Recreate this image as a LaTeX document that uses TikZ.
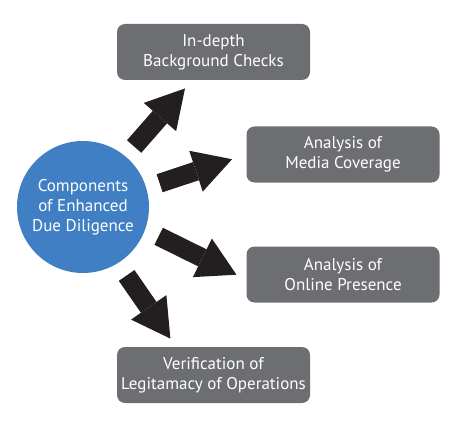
\documentclass[tikz,border=0pt]{standalone}
\usepackage{fontspec}
\setmainfont{PT Sans}
\usetikzlibrary{arrows.meta}

\definecolor{hubblue}{RGB}{64,127,196}
\definecolor{boxgray}{RGB}{109,110,113}
\definecolor{arrowblack}{RGB}{35,31,32}

\tikzset{
  hub/.style={circle, fill=hubblue, minimum size=132pt, inner sep=0pt, text=white, align=center, font=\fontsize{17}{20}\selectfont},
  item/.style={rectangle, rounded corners=8pt, fill=boxgray, minimum width=193pt, minimum height=56pt, inner sep=0pt, text=white, align=center, font=\fontsize{17}{20}\selectfont},
  bigarrow/.style={draw=arrowblack, line width=19pt, -{Triangle[width=43pt,length=38pt,line width=0pt]}, shorten <=13pt, shorten >=11pt}
}

\begin{document}
\begin{tikzpicture}[x=1pt,y=1pt,yscale=-1]
  \useasboundingbox (0,0) rectangle (474,425);

  % centre circle
  \node[hub] (hub) at (83,207) {Components\\of Enhanced\\Due Diligence};

  % the four components
  \node[item] (box1) at (213.5,52) {In-depth\\Background Checks};
  \node[item] (box2) at (343,154.5) {Analysis of\\Media Coverage};
  \node[item] (box3) at (343,274.5) {Analysis of\\Online Presence};
  \node[item] (box4) at (213.5,375) {Verification of\\Legitamacy of Operations};

  % block arrows
  \draw[bigarrow] (hub.50) -- (box1.-127);
  \draw[bigarrow, shorten <=14pt, shorten >=15pt] (hub.17) -- (box2.west);
  \draw[bigarrow, shorten <=15pt, shorten >=11pt] (hub.-20) -- (box3.183);
  \draw[bigarrow, shorten <=15pt, shorten >=10pt] (hub.-58) -- (box4.143);
\end{tikzpicture}
\end{document}
